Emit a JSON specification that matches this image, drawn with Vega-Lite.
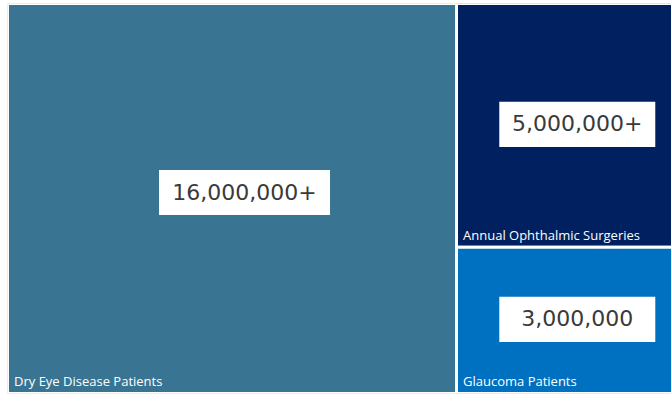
{
  "$schema": "https://vega.github.io/schema/vega-lite/v6.json",
  "width": 664,
  "height": 390,
  "autosize": "none",
  "padding": {"left": 7.5, "top": 3.5, "right": 0, "bottom": 0},
  "background": "white",
  "config": {"view": {"stroke": null}},
  "data": {"values": [
    {"name": "Dry Eye Disease Patients", "label": "16,000,000+", "value": 16000000, "column": "A"},
    {"name": "Annual Ophthalmic Surgeries", "label": "5,000,000+", "value": 5000000, "column": "B"},
    {"name": "Glaucoma Patients", "label": "3,000,000", "value": 3000000, "column": "B"}
  ]},
  "transform": [
    {"stack": "value", "groupby": [], "sort": [{"field": "value", "order": "descending"}], "as": ["sx0", "sx1"]},
    {"window": [{"op": "min", "field": "sx0", "as": "cx0"}, {"op": "max", "field": "sx1", "as": "cx1"}], "groupby": ["column"], "frame": [null, null]},
    {"stack": "value", "groupby": ["column"], "offset": "normalize", "sort": [{"field": "value", "order": "descending"}], "as": ["ny0", "ny1"]}
  ],
  "layer": [
    {
      "mark": {"type": "rect", "stroke": "white", "strokeWidth": 3, "clip": true},
      "encoding": {
        "x": {"field": "cx0", "type": "quantitative", "scale": {"domain": [0, 23660000], "nice": false, "zero": false}, "axis": null},
        "x2": {"field": "cx1"},
        "y": {"field": "ny0", "type": "quantitative", "scale": {"domain": [0, 1], "nice": false, "reverse": true}, "axis": null},
        "y2": {"field": "ny1"},
        "color": {"field": "name", "type": "nominal", "legend": null,
          "scale": {"domain": ["Dry Eye Disease Patients", "Annual Ophthalmic Surgeries", "Glaucoma Patients"], "range": ["#397592", "#002060", "#0070C0"]}}
      }
    },
    {
      "mark": {"type": "text", "align": "left", "baseline": "alphabetic", "dx": 6.5, "dy": -7.5, "font": "Open Sans", "fontSize": 13, "color": "white"},
      "encoding": {
        "x": {"field": "cx0", "type": "quantitative", "scale": {"domain": [0, 23660000], "nice": false, "zero": false}, "axis": null},
        "y": {"field": "ny1", "type": "quantitative", "scale": {"domain": [0, 1], "nice": false, "reverse": true}, "axis": null},
        "text": {"field": "name"}
      }
    },
    {
      "transform": [
        {"fold": ["cx0", "cx1"], "as": ["kx", "xv"]},
        {"aggregate": [{"op": "mean", "field": "xv", "as": "xm"}], "groupby": ["name", "label", "column", "ny0", "ny1"]},
        {"fold": ["ny0", "ny1"], "as": ["ky", "yv"]},
        {"aggregate": [{"op": "mean", "field": "yv", "as": "ym"}], "groupby": ["name", "label", "column", "xm"]}
      ],
      "encoding": {
        "x": {"field": "xm", "type": "quantitative", "scale": {"domain": [0, 23660000], "nice": false, "zero": false}, "axis": null},
        "y": {"field": "ym", "type": "quantitative", "scale": {"domain": [0, 1], "nice": false, "reverse": true}, "axis": null}
      },
      "layer": [
        {
          "transform": [{"filter": {"field": "column", "equal": "A"}}],
          "mark": {"type": "point", "shape": "M-1,-0.263L1,-0.263L1,0.263L-1,0.263Z", "size": 29241, "filled": true, "color": "white", "opacity": 1, "strokeWidth": 0, "xOffset": 12.5, "yOffset": -6}
        },
        {
          "transform": [{"filter": {"field": "column", "equal": "A"}}],
          "mark": {"type": "text", "align": "center", "baseline": "middle", "font": "DejaVu Sans", "fontSize": 22, "color": "#3a3a3a", "xOffset": 12.5, "yOffset": -6},
          "encoding": {"text": {"field": "label"}}
        },
        {
          "transform": [{"filter": {"field": "column", "equal": "B"}}],
          "mark": {"type": "point", "shape": "M-1,-0.2885L1,-0.2885L1,0.2885L-1,0.2885Z", "size": 24336, "filled": true, "color": "white", "opacity": 1, "strokeWidth": 0, "xOffset": 8.5, "yOffset": -1}
        },
        {
          "transform": [{"filter": {"field": "column", "equal": "B"}}],
          "mark": {"type": "text", "align": "center", "baseline": "middle", "font": "DejaVu Sans", "fontSize": 22, "color": "#3a3a3a", "xOffset": 8.5, "yOffset": -1},
          "encoding": {"text": {"field": "label"}}
        }
      ]
    }
  ]
}
